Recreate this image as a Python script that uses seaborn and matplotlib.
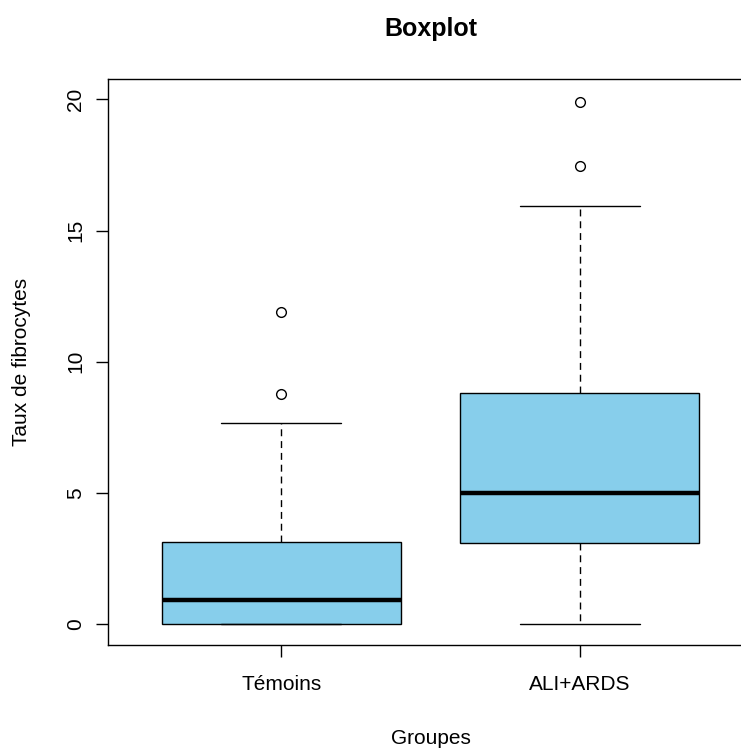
import matplotlib
matplotlib.use("Agg")
import matplotlib.pyplot as plt
import seaborn as sns
import pandas as pd

# Group names (x categories)
groups = ["Témoins", "ALI+ARDS"]

# Observations per group (chosen so the box statistics match the picture:
# Témoins: Q1 0, median 0.92, Q3 3.12, upper whisker 7.67, outliers 8.77, 11.9
# ALI+ARDS: Q1 3.08, median 5.0, Q3 8.8, upper whisker 15.95, outliers 17.45, 19.9)
temoins_values = [0.0, 0.0, 0.0, 0.0, 0.3, 0.6, 0.92, 1.5, 2.4, 3.12, 7.67, 8.77, 11.9]
ali_ards_values = [0.0, 1.0, 2.0, 3.08, 3.8, 4.4, 5.0, 6.2, 7.5, 8.8, 15.95, 17.45, 19.9]

y_ticks = [0, 5, 10, 15, 20]

df = pd.DataFrame({
    "Groupes": [groups[0]] * len(temoins_values) + [groups[1]] * len(ali_ards_values),
    "Taux": temoins_values + ali_ards_values,
})

sns.set_theme(style="white")
plt.rcParams["font.family"] = ["Liberation Sans", "DejaVu Sans"]

W, H = 741, 752
fig = plt.figure(figsize=(W / 100, H / 100), dpi=100)
ax = fig.add_axes([108 / W, 1 - 645 / H, (753 - 108) / W, (645 - 79) / H])

sns.boxplot(
    data=df, x="Groupes", y="Taux", order=groups, ax=ax,
    color="#87CEEB", saturation=1, width=0.8, whis=1.5,
    linecolor="black", linewidth=1.0,
    medianprops=dict(linewidth=3.2, color="black", solid_capstyle="butt"),
    whiskerprops=dict(linestyle=(0, (5, 3.5)), linewidth=1.0, color="black"),
    capprops=dict(linewidth=1.0, color="black"),
    flierprops=dict(marker="o", markerfacecolor="none", markeredgecolor="black",
                    markersize=7, markeredgewidth=1.0),
)

ax.set_xlim(-0.58, 1.58)
ax.set_ylim(-0.8, 20.78)
ax.set_yticks(y_ticks)
ax.set_yticklabels([str(t) for t in y_ticks])

for s in ax.spines.values():
    s.set_visible(True)
    s.set_color("black")
    s.set_linewidth(1.0)

ax.tick_params(axis="both", which="major", direction="out", length=8.6, width=1.0,
               color="black", labelsize=15, labelcolor="black", bottom=True, left=True)
ax.tick_params(axis="x", pad=13)
ax.tick_params(axis="y", pad=8, labelrotation=90)
for lab in ax.get_yticklabels():
    lab.set_verticalalignment("center")

ax.set_xlabel("Groupes", fontsize=15, color="black")
ax.xaxis.set_label_coords(0.5, (645 - 739) / 566)
ax.xaxis.label.set_va("center")
ax.set_ylabel("Taux de fibrocytes", fontsize=15, color="black")
ax.yaxis.set_label_coords((22 - 108) / 645, 0.5)
ax.yaxis.label.set_va("center")

fig.text(430.5 / W, 1 - 29 / H, "Boxplot", ha="center", va="center",
         fontsize=18, fontweight="bold", color="black")

fig.savefig("out.png", dpi=100)
